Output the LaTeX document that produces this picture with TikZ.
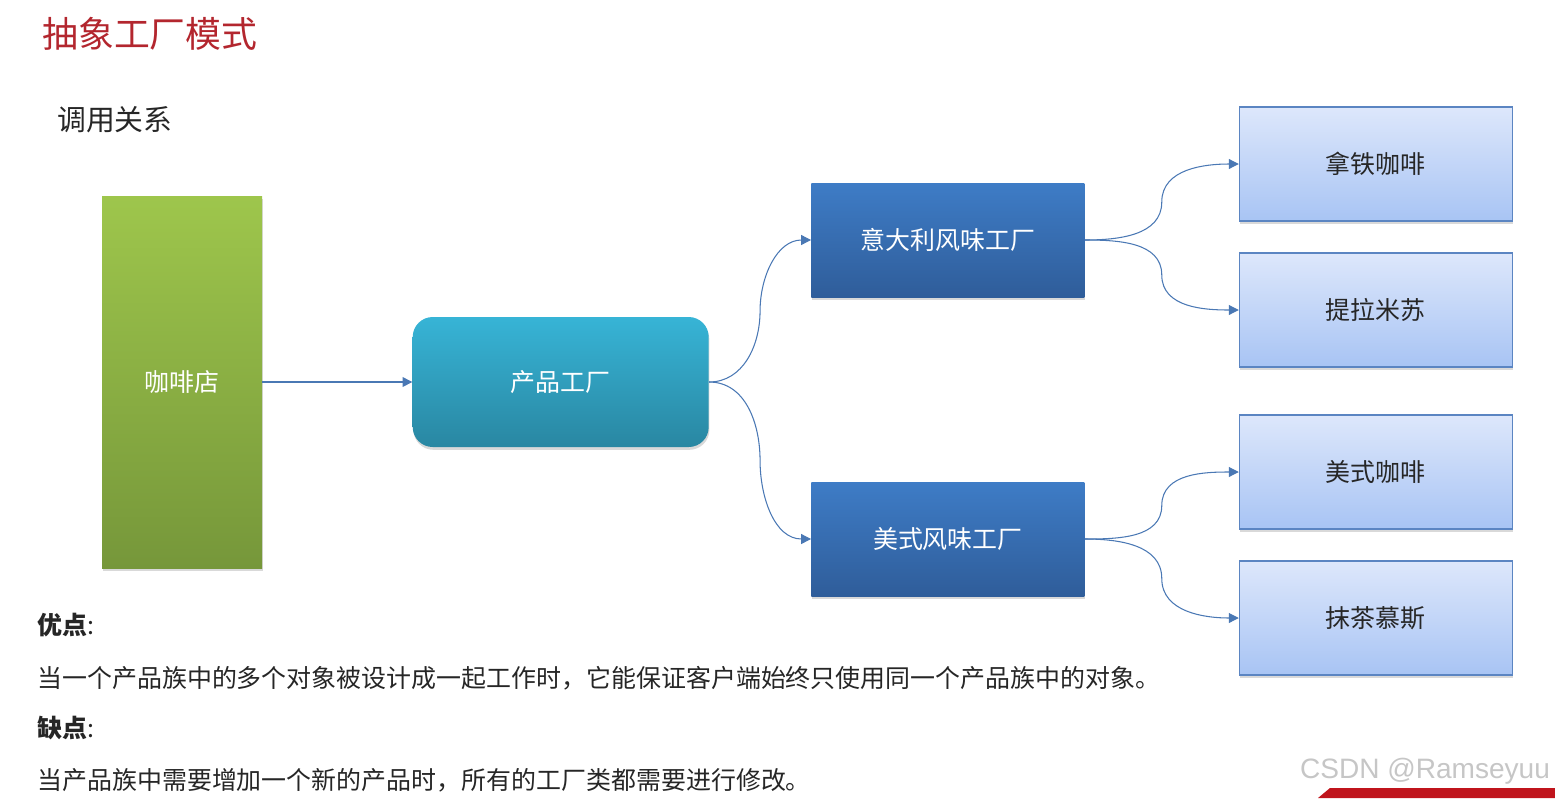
\documentclass[tikz,border=0pt]{standalone}
\usepackage{fontspec}
\setmainfont{Noto Sans CJK SC}
\newfontfamily\wmfont{Liberation Sans}
\usetikzlibrary{positioning,shadows,arrows.meta,calc}

\definecolor{titlered}{HTML}{B3262E}
\definecolor{bodytext}{HTML}{262626}
\definecolor{shoptop}{HTML}{9EC64C}
\definecolor{shopbot}{HTML}{76973A}
\definecolor{prodtop}{HTML}{37B4D6}
\definecolor{prodbot}{HTML}{2987A2}
\definecolor{facttop}{HTML}{3E7CC6}
\definecolor{factbot}{HTML}{2F5D9A}
\definecolor{itemtop}{HTML}{DDE7FB}
\definecolor{itembot}{HTML}{A8C4F4}
\definecolor{itemline}{HTML}{5B85C2}
\definecolor{linkblue}{HTML}{4A78B4}
\definecolor{bannerred}{HTML}{C0141C}

\begin{document}
\begin{tikzpicture}[
  node distance=3cm,
  base/.style={
    inner sep=0pt,
    align=center,
    font=\fontsize{14.2}{17}\selectfont,
    drop shadow={shadow xshift=0.4pt, shadow yshift=-1.6pt, opacity=0.3}
  },
  shopbox/.style={
    base,
    top color=shoptop,
    bottom color=shopbot,
    text=white,
    minimum width=3.2cm,
    minimum height=7.44cm
  },
  prodbox/.style={
    base,
    rounded corners=0.4cm,
    top color=prodtop,
    bottom color=prodbot,
    text=white,
    minimum width=5.92cm,
    minimum height=2.6cm
  },
  factbox/.style={
    base,
    top color=facttop,
    bottom color=factbot,
    text=white,
    minimum width=5.46cm,
    minimum height=2.28cm
  },
  itembox/.style={
    base,
    draw=itemline,
    line width=0.6pt,
    top color=itemtop,
    bottom color=itembot,
    text=bodytext,
    minimum width=5.46cm,
    minimum height=2.28cm
  },
  label/.style={
    anchor=west,
    inner sep=0pt,
    text=bodytext,
    font=\fontsize{14.2}{17}\selectfont
  },
  arrow/.style={-{Triangle[length=5.6pt,width=5.6pt]}, draw=linkblue, line width=0.6pt}
]
\useasboundingbox (0,0) rectangle (31.1,-15.96);

% headings
\node[anchor=west, inner sep=0pt, text=titlered, font=\fontsize{20.4}{24}\selectfont] (title) at (0.84,-0.68) {抽象工厂模式};
\node[anchor=west, inner sep=0pt, text=bodytext, font=\fontsize{16.4}{20}\selectfont] (calls) at (1.14,-2.4) {调用关系};

% boxes
\node[shopbox] (shop) at (3.64,-7.64) {咖啡店};
\node[prodbox] (product) [right=3cm of shop] {产品工厂};
\node[factbox] (italy) [right=2.04cm of product, yshift=2.84cm] {意大利风味工厂};
\node[factbox] (usa) [right=2.04cm of product, yshift=-3.14cm] {美式风味工厂};
\node[itembox] (latte) [right=3.08cm of italy, yshift=1.52cm] {拿铁咖啡};
\node[itembox] (tiramisu) [right=3.08cm of italy, yshift=-1.4cm] {提拉米苏};
\node[itembox] (americano) [right=3.08cm of usa, yshift=1.34cm] {美式咖啡};
\node[itembox] (mousse) [right=3.08cm of usa, yshift=-1.58cm] {抹茶慕斯};

% connectors
\draw[arrow] (shop) -- (product);
\draw[arrow] (product.east) to[out=0,in=-90] ($(product.east)!.5!(italy.west)$) to[out=90,in=180] (italy.west);
\draw[arrow] (product.east) to[out=0,in=90] ($(product.east)!.5!(usa.west)$) to[out=-90,in=180] (usa.west);
\draw[arrow] (italy.east) to[out=0,in=-90] ($(italy.east)!.5!(latte.west)$) to[out=90,in=180] (latte.west);
\draw[arrow] (italy.east) to[out=0,in=90] ($(italy.east)!.5!(tiramisu.west)$) to[out=-90,in=180] (tiramisu.west);
\draw[arrow] (usa.east) to[out=0,in=-90] ($(usa.east)!.5!(americano.west)$) to[out=90,in=180] (americano.west);
\draw[arrow] (usa.east) to[out=0,in=90] ($(usa.east)!.5!(mousse.west)$) to[out=-90,in=180] (mousse.west);

% pros and cons
\node[label] (pros) at (0.74,-12.5) {\textbf{优点}:};
\node[label] (prostext) at (0.74,-13.56) {当一个产品族中的多个对象被设计成一起工作时，它能保证客户端始终只使用同一个产品族中的对象。};
\node[label] (cons) at (0.74,-14.56) {\textbf{缺点}:};
\node[label] (constext) at (0.74,-15.6) {当产品族中需要增加一个新的产品时，所有的工厂类都需要进行修改。};

% watermark
\node[inner sep=0pt, text=gray!45] (mark) at (28.5,-15.42) {\resizebox{5cm}{!}{\wmfont CSDN @Ramseyuu}};
\fill[bannerred] (26.36,-15.96) -- (26.6,-15.76) -- (31.1,-15.76) -- (31.1,-15.96) -- cycle;
\end{tikzpicture}
\end{document}
